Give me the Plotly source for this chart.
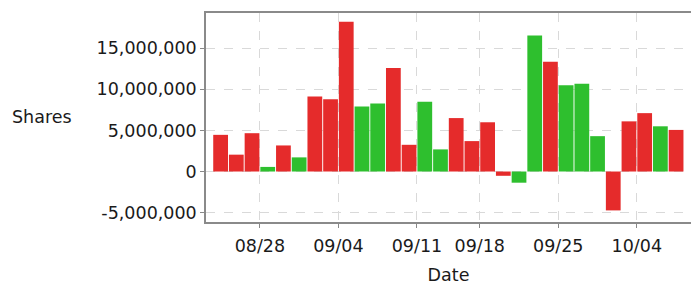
import plotly.graph_objects as go

values = [4.46e6, 2.05e6, 4.66e6, 0.56e6, 3.17e6, 1.72e6, 9.12e6, 8.8e6, 18.23e6, 7.9e6,
          8.27e6, 12.6e6, 3.25e6, 8.5e6, 2.69e6, 6.5e6, 3.7e6, 5.99e6, -0.52e6, -1.36e6,
          16.54e6, 13.34e6, 10.48e6, 10.68e6, 4.3e6, -4.73e6, 6.1e6, 7.1e6, 5.5e6, 5.06e6]
direction = ["r", "r", "r", "g", "r", "g", "r", "r", "r", "g",
             "g", "r", "r", "g", "g", "r", "r", "r", "r", "g",
             "g", "r", "g", "g", "g", "r", "r", "r", "g", "r"]
tick_positions = [2.5, 7.5, 12.5, 16.5, 21.5, 26.5]
tick_labels = ["08/28", "09/04", "09/11", "09/18", "09/25", "10/04"]
y_ticks = [-5000000, 0, 5000000, 10000000, 15000000]
y_tick_labels = ["-5,000,000", "0", "5,000,000", "10,000,000", "15,000,000"]

color_map = {"r": "#e52b2b", "g": "#2ebf2e"}
colors = [color_map[d] for d in direction]

fig = go.Figure(go.Bar(
    x=list(range(len(values))), y=values,
    marker=dict(color=colors, line=dict(width=0)),
))

font = dict(family="DejaVu Sans", size=17.5, color="#1a1a1a")
fig.update_layout(
    width=692, height=285,
    margin=dict(l=206, r=1, t=13, b=61),
    plot_bgcolor="white", paper_bgcolor="white",
    bargap=0.06, showlegend=False,
    font=font,
)
fig.update_xaxes(
    range=[-0.93, 29.95],
    tickvals=tick_positions, ticktext=tick_labels,
    ticks="outside", ticklen=4, tickcolor="#888888",
    showgrid=True, gridcolor="#d9d9d9", griddash="dash", gridwidth=1,
    showline=True, linecolor="#8a8a8a", linewidth=1.5, mirror=True,
    tickfont=font, zeroline=False, ticklabelstandoff=3,
    title=dict(text="Date", font=font, standoff=16),
)
fig.update_yaxes(
    range=[-6.14e6, 19.28e6],
    tickvals=y_ticks, ticktext=y_tick_labels,
    ticks="outside", ticklen=4, tickcolor="#888888",
    showgrid=True, gridcolor="#d9d9d9", griddash="dash", gridwidth=1,
    showline=True, linecolor="#8a8a8a", linewidth=1.5, mirror=False,
    tickfont=font, zeroline=False,
)
fig.add_annotation(
    text="Shares", xref="paper", yref="paper",
    x=(10 - 206) / 485, xanchor="left",
    y=(224 - 118) / 211, yanchor="middle",
    showarrow=False, font=font,
)
fig.write_html("out.html", config={"displayModeBar": False},
               post_script="document.body.style.margin='0';document.body.style.overflow='hidden';")
